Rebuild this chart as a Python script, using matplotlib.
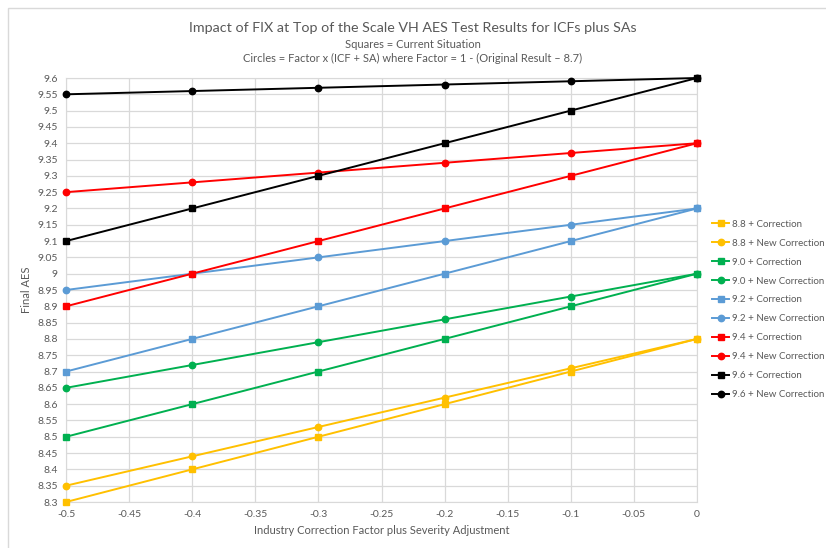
import matplotlib.pyplot as plt
from matplotlib.patches import Rectangle

plt.rcParams['font.family'] = ['Lato', 'DejaVu Sans']

x_vals = [-0.5, -0.4, -0.3, -0.2, -0.1, 0.0]

cur_88 = [8.3, 8.4, 8.5, 8.6, 8.7, 8.8]
new_88 = [8.35, 8.44, 8.53, 8.62, 8.71, 8.8]
cur_90 = [8.5, 8.6, 8.7, 8.8, 8.9, 9.0]
new_90 = [8.65, 8.72, 8.79, 8.86, 8.93, 9.0]
cur_92 = [8.7, 8.8, 8.9, 9.0, 9.1, 9.2]
new_92 = [8.95, 9.0, 9.05, 9.1, 9.15, 9.2]
cur_94 = [8.9, 9.0, 9.1, 9.2, 9.3, 9.4]
new_94 = [9.25, 9.28, 9.31, 9.34, 9.37, 9.4]
cur_96 = [9.1, 9.2, 9.3, 9.4, 9.5, 9.6]
new_96 = [9.55, 9.56, 9.57, 9.58, 9.59, 9.6]

series = [
    ("8.8 + Correction", cur_88, "#FFC000", "s"),
    ("8.8 + New Correction", new_88, "#FFC000", "o"),
    ("9.0 + Correction", cur_90, "#00B050", "s"),
    ("9.0 + New Correction", new_90, "#00B050", "o"),
    ("9.2 + Correction", cur_92, "#5B9BD5", "s"),
    ("9.2 + New Correction", new_92, "#5B9BD5", "o"),
    ("9.4 + Correction", cur_94, "#FF0000", "s"),
    ("9.4 + New Correction", new_94, "#FF0000", "o"),
    ("9.6 + Correction", cur_96, "#000000", "s"),
    ("9.6 + New Correction", new_96, "#000000", "o"),
]

x_ticks = [-0.5, -0.45, -0.4, -0.35, -0.3, -0.25, -0.2, -0.15, -0.1, -0.05, 0]
y_ticks = [round(8.3 + 0.05 * i, 2) for i in range(27)]

def fmt(v):
    s = ("%.2f" % v).rstrip("0").rstrip(".")
    return s

fig = plt.figure(figsize=(8.26, 5.48), dpi=100)
# light frame round the chart
fig.patches.append(Rectangle((8 / 826, -0.1), 1.2, 1.1 - 8 / 548,
                             transform=fig.transFigure, fill=False,
                             edgecolor="#D9D9D9", linewidth=1))
ax = fig.add_axes([66 / 826, 1 - 502 / 548, (697 - 66) / 826, (502 - 78) / 548])

for label, vals, col, mk in series:
    ax.plot(x_vals, vals, color=col, marker=mk, markersize=4.6, linewidth=1.4,
            label=label, clip_on=False, zorder=3)

ax.set_xlim(-0.5, 0)
ax.set_ylim(8.3, 9.6)
ax.set_xticks(x_ticks)
ax.set_xticklabels([fmt(v) for v in x_ticks])
ax.set_yticks(y_ticks)
ax.set_yticklabels([fmt(v) for v in y_ticks])
ax.grid(True, color="#D9D9D9", linewidth=0.9)
ax.set_axisbelow(True)
for sp in ax.spines.values():
    sp.set_color("#D9D9D9")
ax.tick_params(length=0, colors="#595959", labelsize=7.5, pad=6)

ax.set_xlabel("Industry Correction Factor plus Severity Adjustment",
              fontsize=8, color="#595959", labelpad=4)
ax.set_ylabel("Final AES", fontsize=8, color="#595959", labelpad=4)

fig.text(0.5, 1 - 28 / 548, "Impact of FIX at Top of the Scale VH AES Test Results for ICFs plus SAs",
         ha="center", va="center", fontsize=10.3, color="#595959")
fig.text(0.5, 1 - 44 / 548, "Squares = Current Situation",
         ha="center", va="center", fontsize=8, color="#595959")
fig.text(0.5, 1 - 58 / 548, "Circles = Factor x (ICF + SA) where Factor = 1 - (Original Result \u2013 8.7)",
         ha="center", va="center", fontsize=8, color="#595959")

leg = fig.legend(loc="upper left", bbox_to_anchor=(704 / 826, 1 - 212 / 548),
                 frameon=False, fontsize=7.0, labelspacing=1.02,
                 handlelength=1.8, handletextpad=0.25, borderpad=0.3)
for t in leg.get_texts():
    t.set_color("#595959")

fig.savefig("out.png", dpi=100)
